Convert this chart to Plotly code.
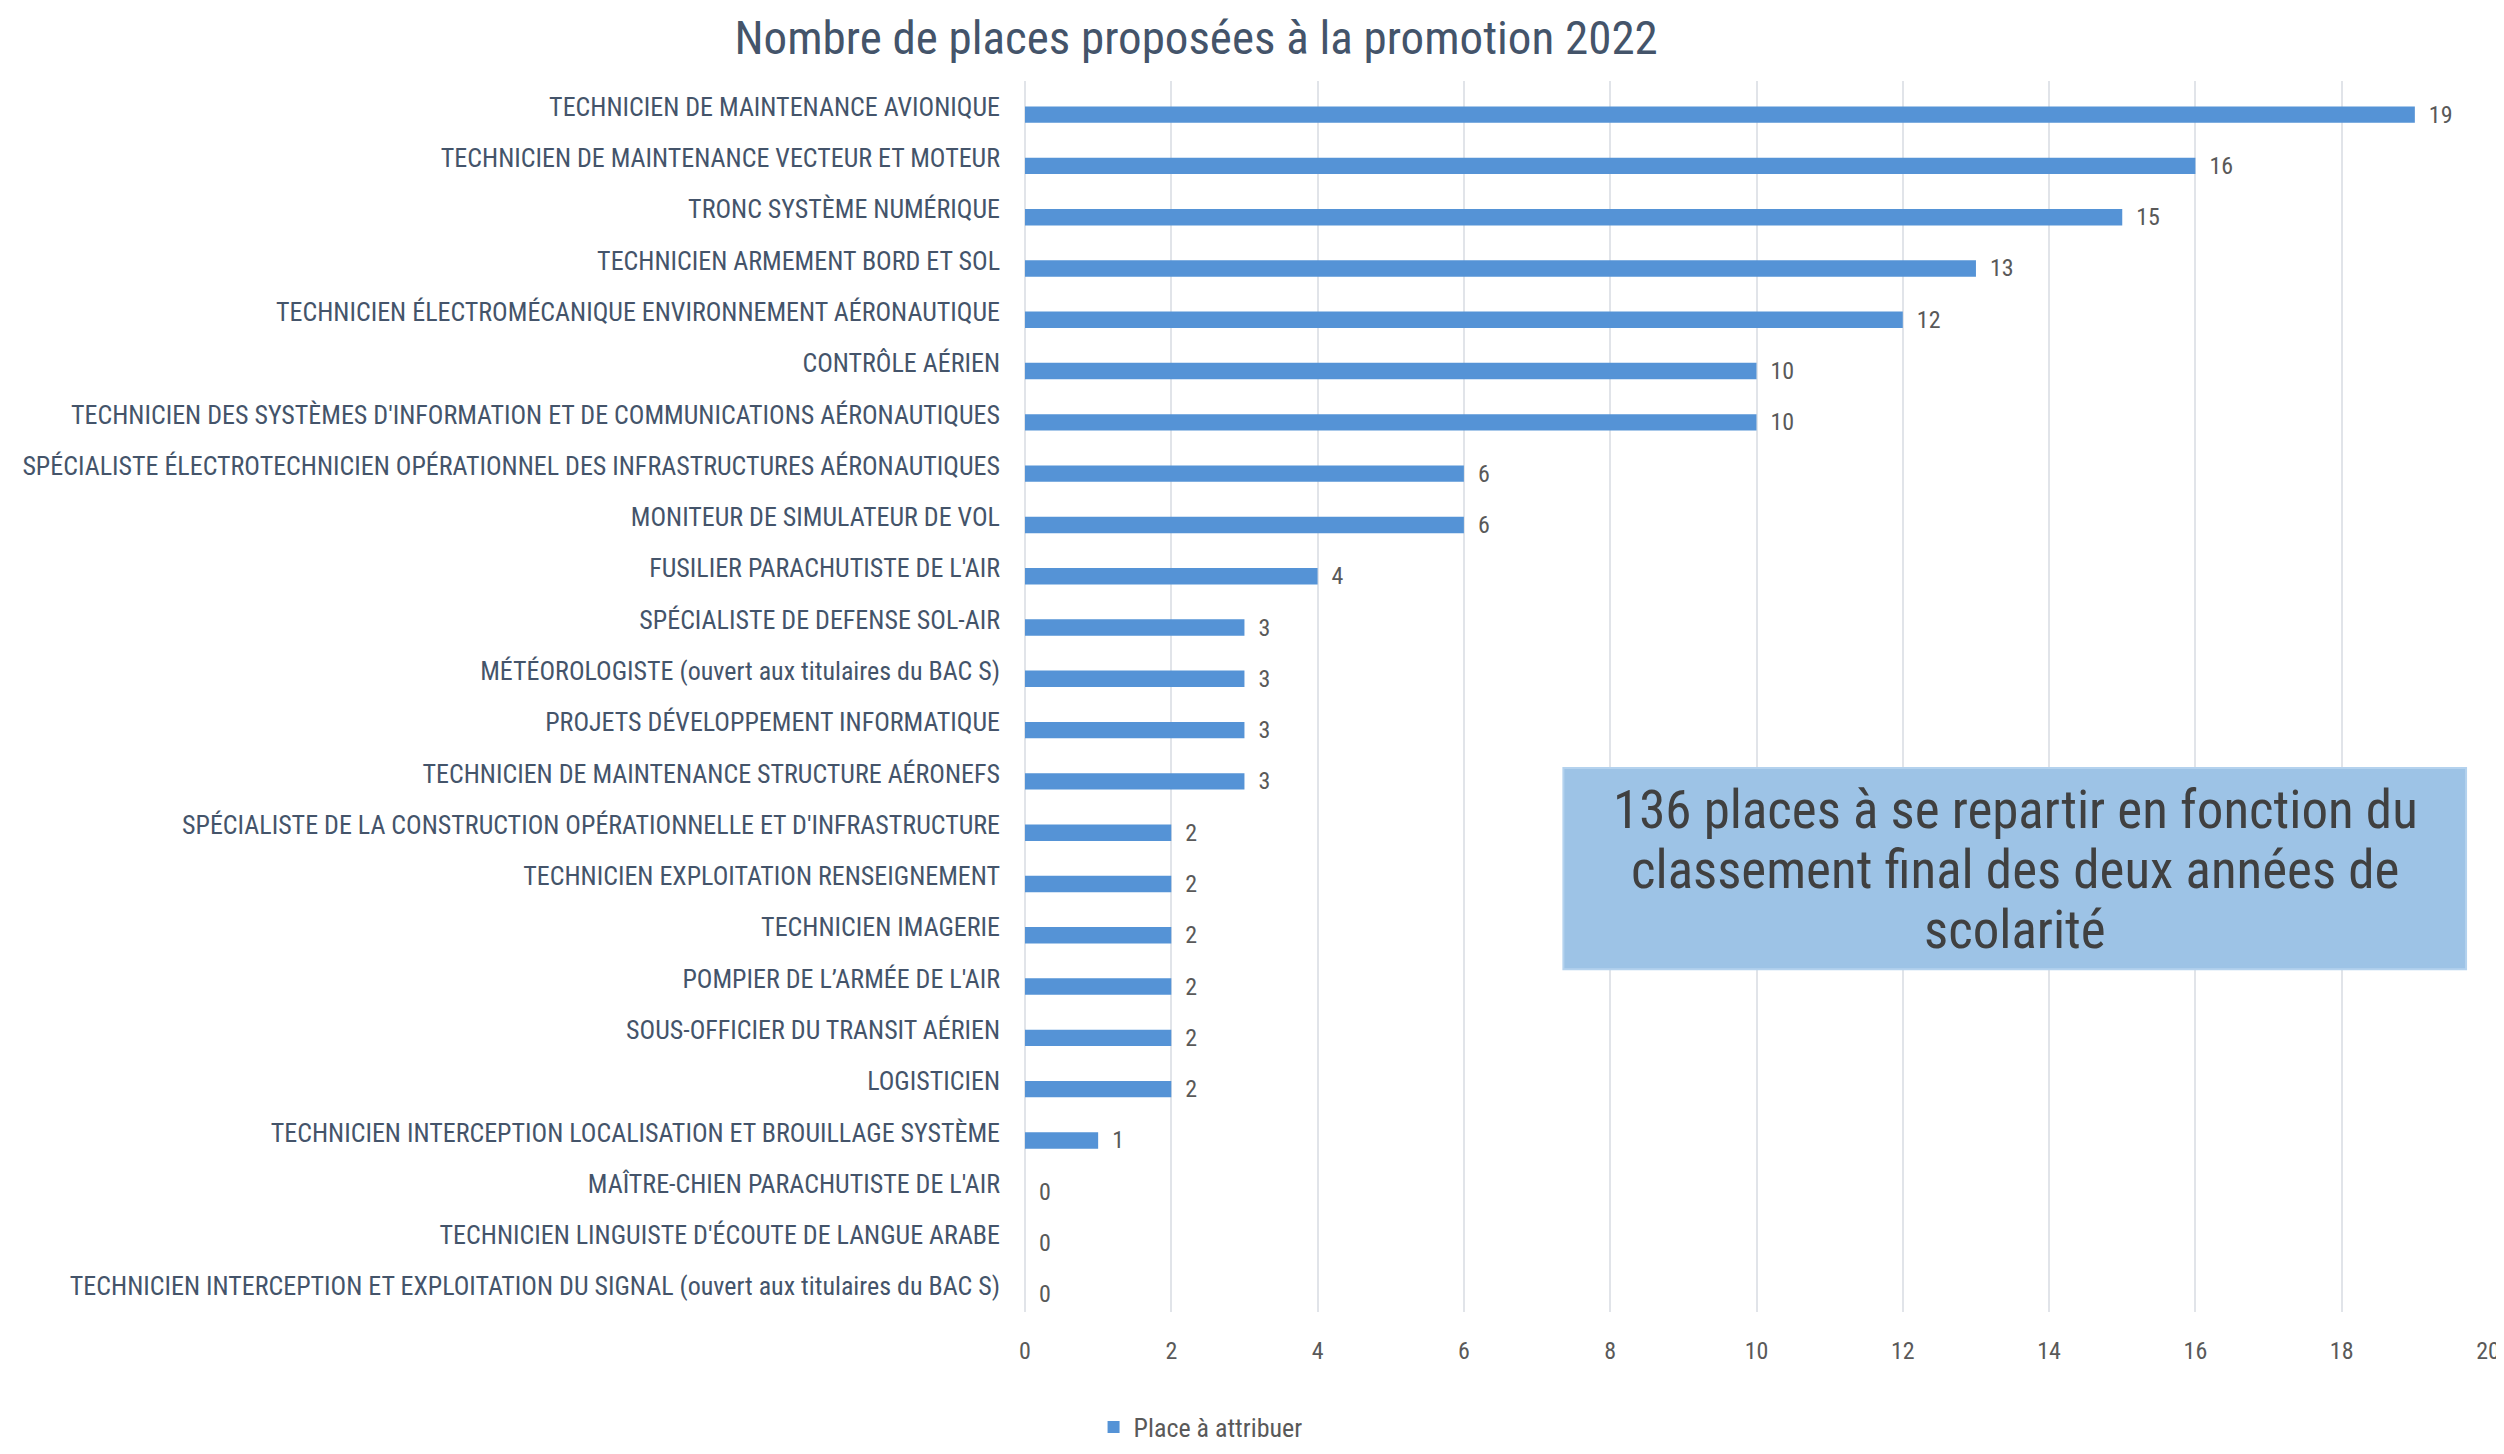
import plotly.graph_objects as go

categories = [
    "TECHNICIEN DE MAINTENANCE AVIONIQUE",
    "TECHNICIEN DE MAINTENANCE VECTEUR ET MOTEUR",
    "TRONC SYSTÈME NUMÉRIQUE",
    "TECHNICIEN ARMEMENT BORD ET SOL",
    "TECHNICIEN ÉLECTROMÉCANIQUE ENVIRONNEMENT AÉRONAUTIQUE",
    "CONTRÔLE AÉRIEN",
    "TECHNICIEN DES SYSTÈMES D'INFORMATION ET DE COMMUNICATIONS AÉRONAUTIQUES",
    "SPÉCIALISTE ÉLECTROTECHNICIEN OPÉRATIONNEL DES INFRASTRUCTURES AÉRONAUTIQUES",
    "MONITEUR DE SIMULATEUR DE VOL",
    "FUSILIER PARACHUTISTE DE L'AIR",
    "SPÉCIALISTE DE DEFENSE SOL-AIR",
    "MÉTÉOROLOGISTE (ouvert aux titulaires du BAC S)",
    "PROJETS DÉVELOPPEMENT INFORMATIQUE",
    "TECHNICIEN DE MAINTENANCE STRUCTURE AÉRONEFS",
    "SPÉCIALISTE DE LA CONSTRUCTION OPÉRATIONNELLE ET D'INFRASTRUCTURE",
    "TECHNICIEN EXPLOITATION RENSEIGNEMENT",
    "TECHNICIEN IMAGERIE",
    "POMPIER DE L’ARMÉE DE L'AIR",
    "SOUS-OFFICIER DU TRANSIT AÉRIEN",
    "LOGISTICIEN",
    "TECHNICIEN INTERCEPTION LOCALISATION ET BROUILLAGE SYSTÈME",
    "MAÎTRE-CHIEN PARACHUTISTE DE L'AIR",
    "TECHNICIEN LINGUISTE D'ÉCOUTE DE LANGUE ARABE",
    "TECHNICIEN INTERCEPTION ET EXPLOITATION DU SIGNAL (ouvert aux titulaires du BAC S)",
]
places = [19, 16, 15, 13, 12, 10, 10, 6, 6, 4, 3, 3, 3, 3, 2, 2, 2, 2, 2, 2, 1, 0, 0, 0]
x_ticks = [0, 2, 4, 6, 8, 10, 12, 14, 16, 18, 20]

series_name = "Place à attribuer"
title_text = "Nombre de places proposées à la promotion 2022"
box_lines = [
    "136 places à se repartir en fonction du",
    "classement final des deux années de",
    "scolarité",
]

FONT = "Liberation Sans Narrow, Arial Narrow, Roboto Condensed, sans-serif"
TEXT_COLOR = "#44546A"

BAR_W = 0.32
fig = go.Figure()
fig.add_trace(go.Bar(
    y=categories,
    x=places,
    orientation="h",
    name=series_name,
    width=BAR_W,
    offset=-BAR_W / 2 + 0.155,
    marker=dict(color="#5593D6", line=dict(width=0)),
    text=places,
    texttemplate="\u00a0\u00a0%{text}",
    textposition="outside",
    constraintext="none",
    textfont=dict(family=FONT, size=24, color="#595959"),
    cliponaxis=False,
    showlegend=True,
))

fig.update_layout(
    width=2504,
    height=1454,
    paper_bgcolor="white",
    plot_bgcolor="white",
    margin=dict(l=1017, r=20, t=73, b=128),
    title=dict(
        text=title_text,
        x=0.4745, xanchor="center",
        y=0.9795, yanchor="middle",
        font=dict(family=FONT, size=47, color=TEXT_COLOR),
    ),
    font=dict(family=FONT, size=22, color=TEXT_COLOR),
    legend=dict(
        orientation="h",
        x=0.12, xanchor="center",
        y=-0.0934, yanchor="middle",
        font=dict(family=FONT, size=26, color="#595959"),
        bgcolor="rgba(0,0,0,0)",
    ),
    showlegend=True,
)

fig.update_xaxes(
    range=[0, 20],
    tickvals=x_ticks,
    showgrid=True,
    gridcolor="#E1E4E9",
    gridwidth=1.5,
    zeroline=True,
    zerolinecolor="#E1E4E9",
    zerolinewidth=1.5,
    showline=False,
    ticks="",
    ticklabelstandoff=22,
    tickfont=dict(family=FONT, size=24, color="#595959"),
    fixedrange=True,
)
fig.update_yaxes(
    autorange="reversed",
    showgrid=False,
    showline=False,
    ticks="",
    ticklabelstandoff=24,
    tickfont=dict(family=FONT, size=26, color=TEXT_COLOR),
)

# Text box
fig.add_shape(
    type="rect", xref="paper", yref="paper",
    x0=0.368, x1=0.985, y0=0.2785, y1=0.442,
    fillcolor="#9DC3E6", line=dict(color="#B4D2EE", width=2),
    layer="above",
)
for line_text, ly in zip(box_lines, [0.4078, 0.3591, 0.3105]):
    fig.add_annotation(
        xref="paper", yref="paper",
        x=0.677, y=ly, xanchor="center", yanchor="middle",
        text=line_text, showarrow=False, align="center",
        font=dict(family=FONT, size=53, color="#404040"),
    )

fig.write_html("out.html")
